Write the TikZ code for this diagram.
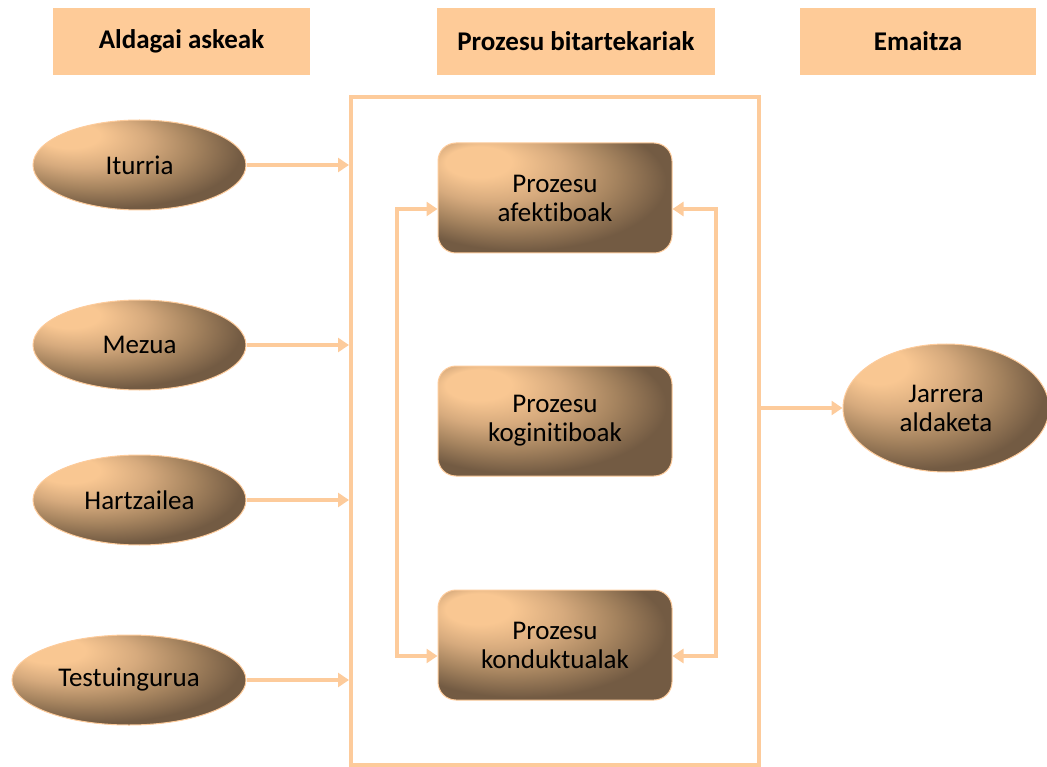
\documentclass[tikz,border=0pt]{standalone}
\usepackage{fontspec}
\setmainfont{Carlito}[Ligatures={NoCommon}]
\usetikzlibrary{shapes.geometric,arrows.meta,calc}
\definecolor{peach}{HTML}{F9C792}
\definecolor{ltan}{HTML}{D6AA7D}
\definecolor{midbr}{HTML}{A6845F}
\definecolor{darkbr}{HTML}{735B43}
\definecolor{linec}{HTML}{FDCB9B}
\definecolor{headc}{HTML}{FECB98}
\pgfdeclareradialshading{eggshade}{\pgfpoint{-19bp}{19bp}}{color(0bp)=(peach);color(7bp)=(peach);color(15bp)=(ltan);color(23bp)=(midbr);color(31bp)=(darkbr);color(50bp)=(darkbr)}
\tikzset{
  head/.style={fill=headc,minimum width=#1,minimum height=67pt,inner sep=0pt,font=\fontsize{27}{30}\selectfont\bfseries},
  egg/.style={ellipse,shading=eggshade,draw=linec,line width=1pt,minimum width=#1,minimum height=90pt,inner sep=0pt,align=center,font=\fontsize{27}{29}\selectfont},
  proc/.style={rectangle,rounded corners=18pt,shading=eggshade,draw=linec,line width=1pt,minimum width=234pt,minimum height=110pt,inner sep=0pt,align=center,font=\fontsize{27}{29}\selectfont},
  arr/.style={draw=linec,line width=4pt,-{Triangle[length=11pt,width=14pt]}},
  arrb/.style={draw=linec,line width=4pt,{Triangle[length=11pt,width=14pt]}-{Triangle[length=11pt,width=14pt]}},
}
\begin{document}
\begin{tikzpicture}[x=1pt,y=-1pt]
\useasboundingbox (0,0) rectangle (1047,767);
% headers
\node[head=257pt] (h1) at (181.5,41.5) {Aldagai askeak};
\node[head=278pt] (h2) at (576,41.5) {Prozesu bitartekariak};
\node[head=236pt] (h3) at (918,41.5) {Emaitza};
% frame
\node[draw=linec,line width=4pt,minimum width=408pt,minimum height=668pt,inner sep=0pt] (frame) at (555,431) {};
% left ellipses
\node[egg=213pt] (it) at (139.5,165) {Iturria};
\node[egg=213pt] (me) at (139.5,345) {Mezua};
\node[egg=213pt] (ha) at (139.5,500) {Hartzailea};
\node[egg=234pt] (te) at (129,680) {Testuingurua};
% process boxes
\node[proc] (af) at (555,198) {Prozesu\\afektiboak};
\node[proc] (ko) at (555,421) {Prozesu\\koginitiboak};
\node[proc] (kd) at (555,645) {Prozesu\\konduktualak};
% result
\node[egg=206pt,minimum height=128pt] (ja) at (946,408) {Jarrera\\aldaketa};
% arrows
\foreach \n in {it,me,ha,te}{
  \draw[arr] (\n.east) -- (\n.east -| frame.west);
}
\draw[arrb] ([yshift=-11pt]af.west) -- ++(-41,0) |- ([yshift=-11pt]kd.west);
\draw[arrb] ([yshift=-11pt]af.east) -- ++(43,0) |- ([yshift=-11pt]kd.east);
\draw[arr] (frame.east |- ja.west) -- (ja.west);
\end{tikzpicture}
\end{document}
